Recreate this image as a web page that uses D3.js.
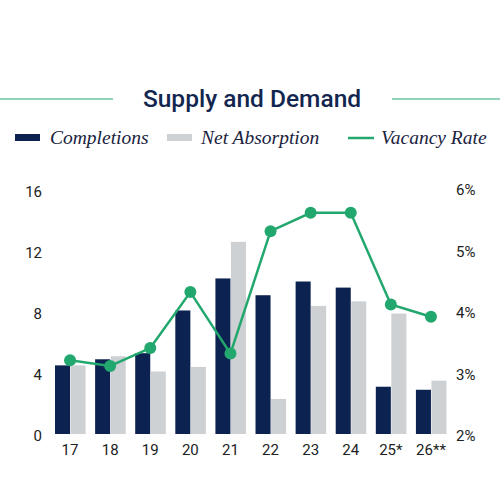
<!DOCTYPE html>
<html><head><meta charset="utf-8">
<script src="https://cdn.jsdelivr.net/npm/d3@7"></script>
<style>body{margin:0;background:#fff}</style></head>
<body><svg id="c" width="500" height="480"></svg>
<script>
const categories = ["17","18","19","20","21","22","23","24","25*","26**"];
const completions = [4.5,4.9,5.3,8.1,10.2,9.1,10.0,9.6,3.1,2.9];
const absorption = [4.5,5.1,4.1,4.4,12.6,2.3,8.4,8.7,7.9,3.5];
const vacancy = [3.23,3.14,3.43,4.34,3.34,5.33,5.63,5.63,4.14,3.94];
const leftTicks = [0,4,8,12,16];
const rightTicks = [2,3,4,5,6];

const navy="#0c2250", grey="#cdd1d4", green="#22a86e";
const svg=d3.select("#c");
svg.append("line").attr("x1",0).attr("x2",113).attr("y1",99).attr("y2",99).attr("stroke",green).attr("stroke-width",1.2);
svg.append("line").attr("x1",392).attr("x2",500).attr("y1",99).attr("y2",99).attr("stroke",green).attr("stroke-width",1.2);
svg.append("text").attr("x",252).attr("y",107).attr("text-anchor","middle").attr("font-family","Roboto, 'Open Sans', sans-serif").attr("font-weight","500").attr("font-size",24.5).attr("fill","#13264f").text("Supply and Demand");
const lg=svg.append("g").attr("font-family","'Liberation Serif', 'DejaVu Serif', serif").attr("font-style","italic").attr("font-size",19.5).attr("fill","#1a2340");
lg.append("rect").attr("x",15).attr("y",134).attr("width",25).attr("height",7).attr("fill",navy);
lg.append("text").attr("x",50).attr("y",144).text("Completions");
lg.append("rect").attr("x",167).attr("y",134).attr("width",25).attr("height",7).attr("fill",grey);
lg.append("text").attr("x",201).attr("y",144).text("Net Absorption");
lg.append("line").attr("x1",348).attr("x2",374).attr("y1",138).attr("y2",138).attr("stroke",green).attr("stroke-width",2.5);
lg.append("text").attr("x",381).attr("y",144).text("Vacancy Rate");

const x=d3.scaleBand().domain(categories).range([50,451]).paddingInner(0.25).paddingOuter(0.125);
const y=d3.scaleLinear().domain([0,16]).range([434,190]);
const y2=d3.scaleLinear().domain([2,6]).range([436,190]);
const bw=x.bandwidth()/2;
const g=svg.append("g");
g.selectAll(".c").data(categories).join("rect").attr("x",d=>x(d)).attr("width",bw).attr("y",(d,i)=>y(completions[i])).attr("height",(d,i)=>y(0)-y(completions[i])).attr("fill",navy);
g.selectAll(".a").data(categories).join("rect").attr("x",d=>x(d)+bw+0.5).attr("width",bw).attr("y",(d,i)=>y(absorption[i])).attr("height",(d,i)=>y(0)-y(absorption[i])).attr("fill",grey);
const cx=d=>x(d)+x.bandwidth()/2;
g.append("path").datum(categories).attr("fill","none").attr("stroke",green).attr("stroke-width",2.5)
 .attr("d",d3.line().x(cx).y((d,i)=>y2(vacancy[i])));
g.selectAll("circle").data(categories).join("circle").attr("cx",cx).attr("cy",(d,i)=>y2(vacancy[i])).attr("r",6).attr("fill",green);

const font="Roboto, 'Open Sans', sans-serif";
const xa=svg.append("g").attr("transform","translate(0,434)").call(d3.axisBottom(x).tickSize(0).tickPadding(10));
xa.select(".domain").remove();
xa.selectAll("text").attr("font-family",font).attr("font-size",15).attr("fill","#222");
const la=svg.append("g").attr("transform","translate(42,0)").call(d3.axisLeft(y).tickValues(leftTicks).tickSize(0).tickPadding(0));
la.select(".domain").remove();
la.selectAll("text").attr("font-family",font).attr("font-size",15).attr("fill","#222").attr("text-anchor","end").attr("dy","0.35em").attr("transform","translate(0,1)");
const ra=svg.append("g").attr("transform","translate(456,0)").call(d3.axisRight(y2).tickValues(rightTicks).tickSize(0).tickPadding(0).tickFormat(d=>d+"%"));
ra.select(".domain").remove();
ra.selectAll("text").attr("font-family",font).attr("font-size",15).attr("fill","#222");
</script></body></html>
